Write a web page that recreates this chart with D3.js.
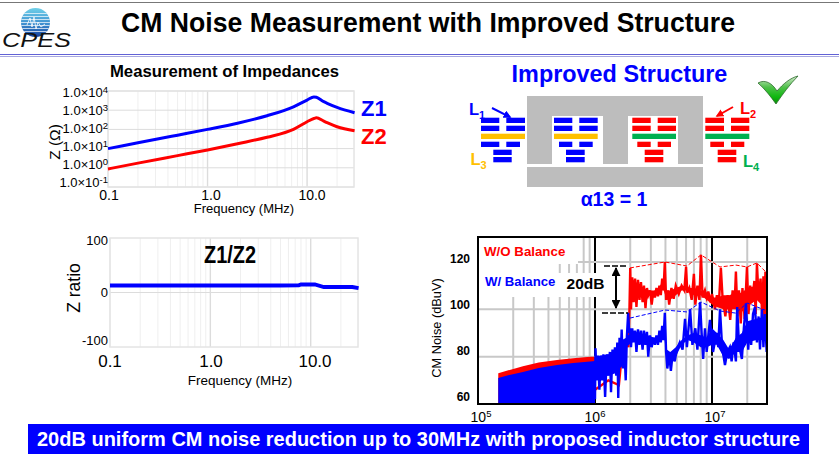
<!DOCTYPE html>
<html>
<head>
<meta charset="utf-8">
<script src="https://cdnjs.cloudflare.com/ajax/libs/d3/7.8.5/d3.min.js"></script>
<style>
  html, body { margin: 0; padding: 0; background: #fff; }
  svg { display: block; }
  text { font-family: "Liberation Sans", Arial, sans-serif; }
</style>
</head>
<body>
<svg id="slide" width="839" height="454"></svg>
<script>
// impedance plot (MHz, ohm)
const zFreq = [0.1, 0.2, 0.5, 1, 2, 3.96, 7.3, 10, 11.7, 12.4, 14.7, 15.9, 20, 30];
const z1 = [10, 20, 50, 100, 210, 515, 1510, 3390, 4900, 4700, 2770, 2300, 1410, 740];
const z2 = [0.87, 1.75, 4.3, 8.5, 18, 39, 100, 250, 370, 400, 270, 224, 138, 85];
const zTicks = [1e4, 1e3, 1e2, 1e1, 1e0, 1e-1];
const zExponents = ['4', '3', '2', '1', '0', '-1'];

// ratio plot
const ratioFreq = [0.1, 1, 5, 7.6, 8, 11, 13.5, 20, 26, 30];
const ratioValue = [13, 13, 13, 13.2, 14.8, 14.8, 10, 10, 10, 8];

// CM noise, low band is a dense comb so only its top edge is kept (MHz, dBuV)
const combFreq = [0.149, 0.19, 0.242, 0.33, 0.473, 0.65, 0.906, 1.0];
const combRed = [73, 74.5, 76, 77.5, 78.6, 79.3, 80, 80];
const combBlue = [71, 72.4, 73.5, 75.2, 76.5, 77.3, 78, 78.2];

// solid core of each trace above 1 MHz
const redBandFreq = [2.05, 2.3, 2.6, 2.85, 3.2, 3.5, 3.8, 4.1, 4.4, 4.9, 5.5, 6.2, 7, 8, 9, 10, 11, 12.5, 14, 16, 18, 20, 24, 29];
const redBandLo = [104, 106, 106, 106, 106, 107, 109, 104, 104, 106, 108, 108, 106, 106, 104, 102, 101, 100, 100, 100, 99, 101, 104, 100];
const redBandHi = [113, 111, 109, 108, 108, 109, 112, 108, 108, 109, 110, 109, 109, 108, 107, 105, 105, 106, 106, 107, 107, 109, 110, 110];
const blueBandFreq = [1.02, 1.3, 1.5, 1.7, 1.85, 2.05, 2.4, 2.8, 3.2, 3.6, 3.9, 4.1, 4.4, 4.9, 5.5, 6.2, 7, 8, 9, 10, 11, 12.5, 14, 16, 18, 20, 24, 29];
const blueBandLo = [71.5, 72, 73, 76, 84, 86, 87, 85, 86, 87, 89, 78, 78, 80, 85, 87, 86, 84, 84, 85, 85, 80, 79, 82, 82, 86, 87, 87];
const blueBandHi = [80, 81, 83, 87, 88, 91, 90, 89, 88, 89, 91, 83, 82, 84, 87, 89, 90, 89, 88, 92, 90, 87, 83, 88, 90, 95, 96, 97];

const redFreq = [1, 1.3, 1.6, 1.72, 1.8, 1.88, 1.93, 1.97, 2.0, 2.03, 2.08, 2.14, 2.2, 2.26, 2.33, 2.4, 2.47, 2.55, 2.62, 2.7, 2.78, 2.85, 2.95, 3.05, 3.15, 3.25, 3.35, 3.45, 3.55, 3.65, 3.75, 3.85, 3.95, 4.05, 4.2, 4.3, 4.5, 4.7, 4.9, 5.2, 5.5, 5.8, 6.0, 6.15, 6.4, 6.7, 7.0, 7.2, 7.5, 7.8, 8.05, 8.3, 8.7, 9.0, 9.3, 9.7, 10, 10.6, 11, 11.4, 11.9, 12.3, 13, 13.6, 14.3, 15, 15.6, 16, 16.5, 17, 17.6, 18.2, 19, 19.9, 20.5, 21.2, 22, 23, 23.6, 24.2, 25, 26, 26.8, 27.5, 28, 28.6, 29.3];
const redLevel = [66, 70, 68, 84, 85, 86, 84, 100, 117.5, 100, 113.5, 103, 113, 101, 112.5, 104, 111.5, 103, 110, 100.5, 109, 106, 108, 102, 107.5, 105, 109, 105.5, 110, 106, 113, 108, 120, 104, 108, 102, 109, 104.5, 110, 106.5, 110, 108, 118, 107, 109, 104, 115, 102, 110, 104, 123, 105, 108, 105, 107.5, 103, 106.5, 100, 106, 101, 117.5, 105, 97, 106, 95.5, 108, 102, 116, 97, 108, 94, 109, 96, 118, 98, 110, 103, 112, 98, 119.5, 105, 113, 98, 114, 96, 116, 96];

const blueFreq = [1.0, 1.01, 1.03, 1.06, 1.09, 1.12, 1.15, 1.18, 1.22, 1.26, 1.3, 1.34, 1.37, 1.41, 1.45, 1.48, 1.52, 1.55, 1.58, 1.62, 1.65, 1.69, 1.73, 1.78, 1.83, 1.87, 1.92, 1.96, 2.0, 2.03, 2.08, 2.14, 2.2, 2.26, 2.33, 2.4, 2.47, 2.55, 2.62, 2.7, 2.78, 2.85, 2.95, 3.05, 3.15, 3.25, 3.35, 3.45, 3.55, 3.65, 3.75, 3.85, 3.95, 4.05, 4.15, 4.3, 4.45, 4.6, 4.8, 5.0, 5.3, 5.6, 5.88, 6.1, 6.5, 6.8, 7.2, 7.5, 7.9, 8.15, 8.4, 8.7, 9, 9.6, 10.2, 10.9, 11.3, 11.7, 12.2, 12.9, 13.5, 14.2, 14.7, 15.3, 16, 16.4, 17, 18, 18.7, 19.5, 20.4, 21, 21.6, 22.4, 23.3, 24.2, 25, 25.7, 26.7, 27.5, 28.3, 29.3];
const blueLevel = [62, 83.5, 70, 80.5, 66, 80.5, 70, 81, 63, 81, 72, 82, 65, 83, 74, 84, 72, 86, 62.5, 88, 78, 91.5, 75, 84, 70, 88, 98.5, 90, 92, 84, 92, 86, 91, 82, 91.5, 85, 91, 83, 91, 85, 90.5, 80, 89, 84, 88, 85, 89, 85, 91, 86, 93, 87, 98.5, 82, 75, 81, 74, 81, 78, 83, 86, 83, 96, 84, 100, 85, 92, 83, 103, 90, 79, 92, 82, 95.5, 82, 90, 84, 100, 84, 76.5, 82, 84, 78, 86, 78, 101, 85, 79, 92, 102.5, 83, 95, 85, 98, 101, 86, 97, 83, 100, 84, 98, 82];

const peakRedFreq = [1.99, 3.97, 6.1, 8.05, 11.7, 16, 19.9, 24.2, 28.3];
const peakRed = [117.5, 120, 118.3, 123, 117.9, 118.7, 117.9, 119.6, 116.2];
const peakBlueFreq = [1.99, 3.97, 6.1, 8.05, 11.7, 16, 19.9, 28.3];
const peakBlue = [96.3, 99.7, 98.9, 103.1, 99.3, 98.4, 102.7, 99.7];

const noiseTicks = [120, 100, 80, 60];
const decadeExponents = ['5', '6', '7'];

// winding sections of the core drawing: [x0, x1, row, colour]
const BLUE = '#0000ff', RED = '#ff0000', YELLOW = '#ffc000', GREEN = '#00b050';
const stack = (l1, l2, r1, r2, m1, m2, il, ir, main, shield) => [
  [l1, l2, 0, main], [r1, r2, 0, main],
  [l1, l2, 1, main], [r1, r2, 1, main],
  [l1, r2, 2, shield],
  [il, l2, 3, main], [r1, ir, 3, main],
  [m1, m2, 4, main], [m1, m2, 5, main],
];
const windings = [
  ...stack(481, 499.3, 506.3, 525, 493.3, 511.7, 481, 520, BLUE, YELLOW),
  ...stack(554, 572.3, 579.3, 597.7, 566, 584.7, 559, 592.7, BLUE, YELLOW),
  ...stack(632.3, 650.7, 657.7, 676, 644.7, 663.3, 637.3, 671, RED, GREEN),
  ...stack(705.3, 724, 731, 749.3, 717.7, 736.3, 710.3, 744.3, RED, GREEN),
];
const windingRows = [117.7, 125.7, 133.7, 141.7, 149.7, 157];

const svg = d3.select('#slide');
const defs = svg.append('defs');

const label = (parent, x, y, str, size, opts = {}) =>
  parent.append('text')
    .attr('x', x).attr('y', y)
    .attr('dominant-baseline', 'middle')
    .attr('text-anchor', opts.anchor || 'middle')
    .attr('font-size', size)
    .attr('font-weight', opts.weight || 'normal')
    .attr('fill', opts.fill || '#000')
    .attr('transform', opts.rotate ? `rotate(${opts.rotate} ${x} ${y})` : null)
    .text(str);

const decadeMinors = (lo, hi) => {
  const out = [];
  for (let d = lo; d < hi; d *= 10) for (let k = 1; k < 10; k++) if (d * k <= hi * 1.001) out.push(d * k);
  return out;
};

// ---- header ----
svg.append('rect').attr('x', 0).attr('y', 2).attr('width', 839).attr('height', 1).attr('fill', '#777');
svg.append('rect').attr('x', 0).attr('y', 54).attr('width', 839).attr('height', 1).attr('fill', '#6262d6');
svg.append('rect').attr('x', 0).attr('y', 56).attr('width', 839).attr('height', 1).attr('fill', '#a8a8e0');
label(svg, 428, 25, 'CM Noise Measurement with Improved Structure', 27.5, { weight: 'bold' })
  .attr('textLength', 614).attr('lengthAdjust', 'spacingAndGlyphs');

// logo
const globe = defs.append('linearGradient').attr('id', 'globe').attr('x1', 0).attr('x2', 0).attr('y1', 0).attr('y2', 1);
globe.append('stop').attr('offset', 0).attr('stop-color', '#6fd0e8');
globe.append('stop').attr('offset', 0.55).attr('stop-color', '#3f8fd0');
globe.append('stop').attr('offset', 1).attr('stop-color', '#123f9a');
defs.append('clipPath').attr('id', 'globeClip').append('circle').attr('cx', 35.5).attr('cy', 22.5).attr('r', 14.5);
svg.append('circle').attr('cx', 35.5).attr('cy', 22.5).attr('r', 14.5).attr('fill', 'url(#globe)');
const stripes = svg.append('g').attr('clip-path', 'url(#globeClip)');
d3.range(13, 33, 3).forEach((y) => {
  stripes.append('rect').attr('x', 20).attr('y', y).attr('width', 31).attr('height', 1).attr('fill', '#fff').attr('opacity', 0.7);
});
stripes.append('path').attr('d', 'M27,25L30,18L32,27L34,17L36,29L38,22L41,27L45,24').attr('fill', 'none').attr('stroke', '#fff').attr('stroke-width', 0.8);
label(svg, 36.5, 42, 'CPES', 20, { fill: '#111' })
  .attr('font-style', 'italic').attr('textLength', 69).attr('lengthAdjust', 'spacingAndGlyphs');

// ---- impedance plot ----
const zPlot = { l: 108, r: 354, t: 91, b: 187 };
const zX = d3.scaleLog().domain([0.1, 29.6]).range([zPlot.l, zPlot.r]);
const zY = d3.scaleLog().domain([1e-1, 1e4]).range([zPlot.b, zPlot.t]);
const zLabelY = d3.scaleLog().domain([1e-1, 1e4]).range([184, 94]);

const softGrid = (g, x, yTicks, y, plot) => {
  g.append('g').selectAll('line').data(decadeMinors(0.1, 30).filter((d) => d <= x.domain()[1])).join('line')
    .attr('x1', (d) => x(d)).attr('x2', (d) => x(d)).attr('y1', plot.t).attr('y2', plot.b)
    .attr('stroke', (d) => ([1, 10].includes(d) ? '#dcdcdc' : '#efefef'))
    .attr('stroke-width', (d) => ([1, 10].includes(d) ? 1.4 : 1));
  g.append('g').selectAll('line').data(yTicks).join('line')
    .attr('x1', plot.l).attr('x2', plot.r).attr('y1', (d) => y(d)).attr('y2', (d) => y(d))
    .attr('stroke', '#dcdcdc').attr('stroke-width', 1);
  g.append('rect').attr('x', plot.l).attr('y', plot.t)
    .attr('width', plot.r - plot.l).attr('height', plot.b - plot.t)
    .attr('fill', 'none').attr('stroke', '#e4e4e4').attr('stroke-width', 1.5);
};

const zPanel = svg.append('g');
softGrid(zPanel, zX, zTicks, zY, zPlot);
const zLine = d3.line().x((d) => zX(d[0])).y((d) => zY(d[1])).curve(d3.curveMonotoneX);
[[z1, BLUE], [z2, RED]].forEach(([vals, color]) => {
  zPanel.append('path').datum(zFreq.map((f, i) => [f, vals[i]]))
    .attr('d', zLine).attr('fill', 'none').attr('stroke', color).attr('stroke-width', 3);
});
zTicks.forEach((t, i) => {
  const txt = label(zPanel, 108, zLabelY(t), '1.0×10', 13, { anchor: 'end' });
  txt.append('tspan').attr('dy', -4).attr('font-size', 9.5).text(zExponents[i]);
});
[[0.1, 109], [1, 211], [10, 312]].forEach(([f, x]) => {
  label(zPanel, x, 196, f === 10 ? '10.0' : f.toFixed(1), 14);
});
label(zPanel, 244, 210, 'Frequency (MHz)', 13);
label(zPanel, 56, 142, 'Z (Ω)', 15.5, { rotate: -90 });
label(zPanel, 224.5, 73, 'Measurement of Impedances', 16.7, { weight: 'bold' });
label(zPanel, 361, 110, 'Z1', 22, { anchor: 'start', weight: 'bold', fill: BLUE });
label(zPanel, 361, 138, 'Z2', 22, { anchor: 'start', weight: 'bold', fill: RED });

// ---- ratio plot ----
const rPlot = { l: 110, r: 358, t: 238, b: 347 };
const rX = d3.scaleLog().domain([0.1, 29.6]).range([rPlot.l, rPlot.r]);
const rY = d3.scaleLinear().domain([-100, 100]).range([rPlot.b, rPlot.t]);
const rPanel = svg.append('g');
softGrid(rPanel, rX, [0], rY, rPlot);
rPanel.append('path').datum(ratioFreq.map((f, i) => [f, ratioValue[i]]))
  .attr('d', d3.line().x((d) => rX(d[0])).y((d) => rY(d[1])))
  .attr('fill', 'none').attr('stroke', BLUE).attr('stroke-width', 4);
[['100', 242], ['0', 294], ['-100', 342]].forEach(([t, y]) => {
  label(rPanel, 108, y, t, 13, { anchor: 'end' });
});
[['0.1', 110], ['1.0', 211], ['10.0', 315]].forEach(([t, x]) => label(rPanel, x, 363, t, 17));
label(rPanel, 240, 381, 'Frequency (MHz)', 13.5);
label(rPanel, 75, 288, 'Z ratio', 17.5, { rotate: -90 });
label(rPanel, 230, 257, 'Z1/Z2', 24, { weight: 'bold' })
  .attr('textLength', 52).attr('lengthAdjust', 'spacingAndGlyphs');

// ---- core drawing ----
const core = svg.append('g');
label(core, 619.5, 76, 'Improved Structure', 23.4, { weight: 'bold', fill: BLUE });
core.append('rect').attr('x', 527).attr('y', 96).attr('width', 176).attr('height', 68).attr('fill', '#bdbdbd');
core.append('rect').attr('x', 552).attr('y', 116).attr('width', 51).attr('height', 48).attr('fill', '#fff');
core.append('rect').attr('x', 628).attr('y', 116).attr('width', 50).attr('height', 48).attr('fill', '#fff');
core.append('rect').attr('x', 527).attr('y', 167).attr('width', 176).attr('height', 20).attr('fill', '#bdbdbd');
core.selectAll('.winding').data(windings).join('rect').attr('class', 'winding')
  .attr('x', (d) => d[0]).attr('width', (d) => d[1] - d[0])
  .attr('y', (d) => windingRows[d[2]]).attr('height', 5.3)
  .attr('fill', (d) => d[3]);

const arrowHead = (id, color) => defs.append('marker').attr('id', id)
  .attr('viewBox', '0 0 10 10').attr('refX', 8).attr('refY', 5)
  .attr('markerWidth', 4).attr('markerHeight', 4).attr('orient', 'auto')
  .append('path').attr('d', 'M0,0L10,5L0,10Z').attr('fill', color);
arrowHead('headBlue', BLUE);
arrowHead('headRed', RED);
core.append('line').attr('x1', 492).attr('y1', 108).attr('x2', 510).attr('y2', 117)
  .attr('stroke', BLUE).attr('stroke-width', 2).attr('marker-end', 'url(#headBlue)');
core.append('line').attr('x1', 733).attr('y1', 107).attr('x2', 717).attr('y2', 116)
  .attr('stroke', RED).attr('stroke-width', 2).attr('marker-end', 'url(#headRed)');

[['1', 469, 111, BLUE], ['2', 740, 110, RED], ['3', 470.5, 161, YELLOW], ['4', 743, 163, GREEN]].forEach(([n, x, y, color]) => {
  const txt = label(core, x, y, 'L', 16.5, { anchor: 'start', weight: 'bold', fill: color });
  txt.append('tspan').attr('dy', 5).attr('font-size', 11).text(n);
});
label(core, 614, 201, 'α13 = 1', 19.5, { weight: 'bold', fill: BLUE });

// check mark
const tick = defs.append('linearGradient').attr('id', 'tick').attr('x1', 0).attr('x2', 0).attr('y1', 0).attr('y2', 1);
tick.append('stop').attr('offset', 0).attr('stop-color', '#d6ead0');
tick.append('stop').attr('offset', 0.4).attr('stop-color', '#4fc04a');
tick.append('stop').attr('offset', 0.75).attr('stop-color', '#0fb80f');
tick.append('stop').attr('offset', 1).attr('stop-color', '#0a8a0a');
svg.append('path')
  .attr('d', 'M758,83C765,79 772,83 777,91C783,84 790,78 798,76C790,84 782,95 776,104C771,97 765,89 758,83Z')
  .attr('fill', 'url(#tick)').attr('stroke', '#2b6b2b').attr('stroke-width', 0.8);

// ---- CM noise plot ----
const nPlot = { l: 478, r: 767, t: 237, b: 404 };
const nX = d3.scaleLog().domain([1e5, 2.95e7]).range([nPlot.l, nPlot.r]);
const nY = d3.scaleLinear().domain([60, 120]).range([nPlot.b, 262]);
const nLabelY = d3.scaleLinear().domain([60, 120]).range([398, 260]);
const mhz = (f) => nX(f * 1e6);

const nPanel = svg.append('g');
defs.append('clipPath').attr('id', 'noiseClip').append('rect')
  .attr('x', nPlot.l).attr('y', nPlot.t).attr('width', nPlot.r - nPlot.l).attr('height', nPlot.b - nPlot.t);

nPanel.append('g').selectAll('line').data(decadeMinors(1e5, 2.95e7).filter((d) => d > 1e5 && d !== 1e6 && d !== 1e7)).join('line')
  .attr('x1', (d) => nX(d)).attr('x2', (d) => nX(d)).attr('y1', nPlot.t).attr('y2', nPlot.b)
  .attr('stroke', '#c8c8c8').attr('stroke-width', 2);
nPanel.append('g').selectAll('line').data([1e6, 1e7]).join('line')
  .attr('x1', (d) => nX(d)).attr('x2', (d) => nX(d)).attr('y1', nPlot.t).attr('y2', nPlot.b)
  .attr('stroke', '#000').attr('stroke-width', 2);
nPanel.append('g').selectAll('line').data([120, 100, 80]).join('line')
  .attr('x1', nPlot.l).attr('x2', nPlot.r).attr('y1', (d) => nY(d)).attr('y2', (d) => nY(d))
  .attr('stroke', '#c8c8c8').attr('stroke-width', 2);

// white boxes behind the legend text
nPanel.append('rect').attr('x', nPlot.l).attr('y', nPlot.t).attr('width', 100).attr('height', 27).attr('fill', '#fff');
nPanel.append('rect').attr('x', nPlot.l).attr('y', 264).attr('width', 80).attr('height', 33).attr('fill', '#fff');
nPanel.append('rect').attr('x', 558).attr('y', 273).attr('width', 47).attr('height', 24).attr('fill', '#fff');

const traces = nPanel.append('g').attr('clip-path', 'url(#noiseClip)');
const combArea = d3.area().x((d) => mhz(d[0])).y0(nPlot.b).y1((d) => nY(d[1]));
const bandArea = d3.area().x((d) => mhz(d[0])).y0((d) => nY(d[1])).y1((d) => nY(d[2]));
const traceLine = d3.line().x((d) => mhz(d[0])).y((d) => nY(d[1]));
traces.append('path').datum(combFreq.map((f, i) => [f, combRed[i]])).attr('d', combArea).attr('fill', RED);
traces.append('path').datum(redBandFreq.map((f, i) => [f, redBandLo[i], redBandHi[i]])).attr('d', bandArea).attr('fill', RED);
traces.append('path').datum(redFreq.map((f, i) => [f, redLevel[i]])).attr('d', traceLine)
  .attr('fill', 'none').attr('stroke', RED).attr('stroke-width', 2.4);
traces.append('path').datum(combFreq.map((f, i) => [f, combBlue[i]])).attr('d', combArea).attr('fill', BLUE);
traces.append('path').datum(blueBandFreq.map((f, i) => [f, blueBandLo[i], blueBandHi[i]])).attr('d', bandArea).attr('fill', BLUE);
traces.append('path').datum(blueFreq.map((f, i) => [f, blueLevel[i]])).attr('d', traceLine)
  .attr('fill', 'none').attr('stroke', BLUE).attr('stroke-width', 2.4);

// dashed peak envelopes
[[peakRedFreq, peakRed, RED], [peakBlueFreq, peakBlue, BLUE]].forEach(([fs, vals, color]) => {
  traces.append('path').datum(fs.map((f, i) => [f, vals[i]])).attr('d', traceLine)
    .attr('fill', 'none').attr('stroke', color).attr('stroke-width', 1).attr('stroke-dasharray', '4 2');
});

nPanel.append('rect').attr('x', nPlot.l).attr('y', nPlot.t)
  .attr('width', nPlot.r - nPlot.l).attr('height', nPlot.b - nPlot.t)
  .attr('fill', 'none').attr('stroke', '#000').attr('stroke-width', 2);

noiseTicks.forEach((t) => label(nPanel, 470, nLabelY(t), t, 12, { anchor: 'end', weight: 'bold' }));
decadeExponents.forEach((e, i) => {
  const txt = label(nPanel, [481, 595, 715][i], 418, '10', 14);
  txt.append('tspan').attr('dy', -4).attr('font-size', 9.5).text(e);
});
label(nPanel, 438, 328, 'CM Noise (dBuV)', 12.8, { rotate: -90 });
label(nPanel, 484, 252, 'W/O Balance', 13.3, { anchor: 'start', weight: 'bold', fill: RED });
label(nPanel, 485, 283, 'W/ Balance', 13.2, { anchor: 'start', weight: 'bold', fill: BLUE });
label(nPanel, 585.5, 285, '20dB', 15.5, { weight: 'bold' });

// 20 dB marker
const marker = nPanel.append('g');
marker.append('line').attr('x1', 604).attr('x2', 628).attr('y1', 266).attr('y2', 266)
  .attr('stroke', '#000').attr('stroke-width', 1.3).attr('stroke-dasharray', '6 2');
marker.append('line').attr('x1', 602).attr('x2', 628).attr('y1', 313).attr('y2', 313)
  .attr('stroke', '#000').attr('stroke-width', 1.3).attr('stroke-dasharray', '6 2');
defs.append('marker').attr('id', 'headBlack').attr('viewBox', '0 0 10 10').attr('refX', 9).attr('refY', 5)
  .attr('markerWidth', 4.5).attr('markerHeight', 4.5).attr('orient', 'auto-start-reverse')
  .append('path').attr('d', 'M0,0L10,5L0,10Z').attr('fill', '#000');
marker.append('line').attr('x1', 616).attr('x2', 616).attr('y1', 268).attr('y2', 308)
  .attr('stroke', '#000').attr('stroke-width', 2)
  .attr('marker-start', 'url(#headBlack)').attr('marker-end', 'url(#headBlack)');

// ---- footer ----
svg.append('rect').attr('x', 28).attr('y', 424).attr('width', 781).attr('height', 30).attr('fill', BLUE);
label(svg, 418.5, 440, '20dB uniform CM noise reduction up to 30MHz with proposed inductor structure', 21, { weight: 'bold', fill: '#fff' })
  .attr('textLength', 763).attr('lengthAdjust', 'spacingAndGlyphs');
</script>
</body>
</html>
